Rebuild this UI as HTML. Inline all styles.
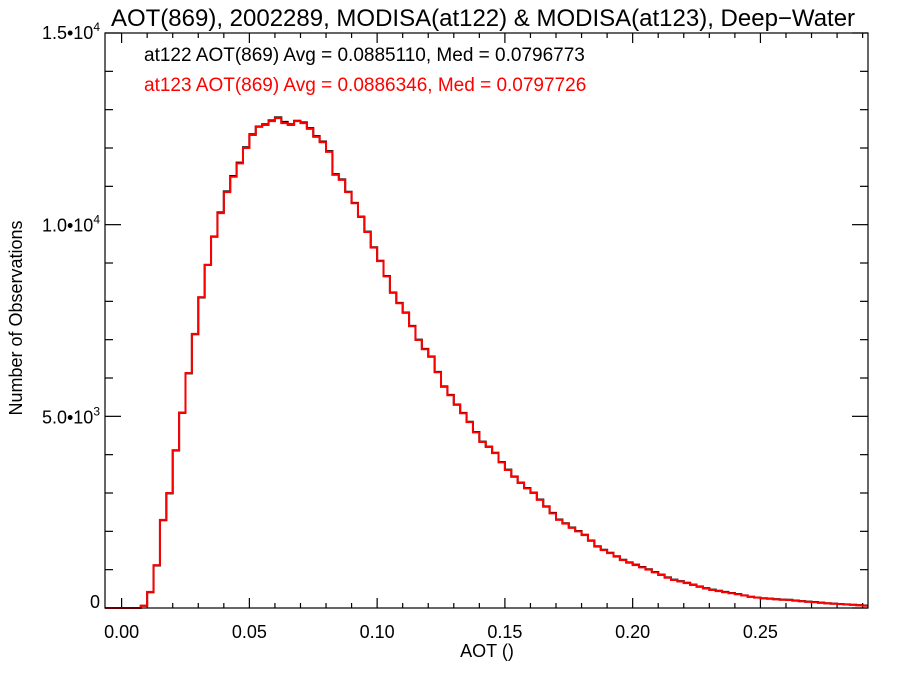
<!DOCTYPE html>
<html><head><meta charset="utf-8"><style>
body{margin:0;background:#fff;}
svg text{font-family:"Liberation Sans",sans-serif;}
</style></head><body>
<svg id="c" width="900" height="675" xmlns="http://www.w3.org/2000/svg">
<text x="483" y="26" font-size="24" text-anchor="middle">AOT(869), 2002289, MODISA(at122) &amp; MODISA(at123), Deep−Water</text>
<text x="144" y="61" font-size="19" fill="#000">at122 AOT(869) Avg = 0.0885110, Med = 0.0796773</text>
<text x="144" y="91" font-size="19" fill="#ff0000">at123 AOT(869) Avg = 0.0886346, Med = 0.0797726</text>
<text x="487" y="657" font-size="18" text-anchor="middle">AOT ()</text>
<text transform="translate(22,318) rotate(-90)" font-size="18" text-anchor="middle">Number of Observations</text>
<g id="ticks"></g>
<g id="series"></g>
<rect x="105" y="33" width="763" height="575" fill="none" stroke="#000" stroke-width="1.2"/>
</svg>
<script>
const binWidth = 0.0025;
const countsAt123 = [0,0,0,60,420,1120,2300,3000,4120,5100,6130,7150,8110,8950,9680,10300,10850,11250,11600,12000,12340,12550,12600,12700,12780,12650,12600,12700,12650,12500,12290,12150,11900,11300,11170,10850,10560,10200,9810,9400,9050,8650,8220,7950,7700,7350,6990,6750,6550,6150,5770,5550,5300,5080,4850,4580,4330,4200,4040,3800,3600,3420,3260,3120,3000,2820,2640,2470,2300,2200,2090,2000,1900,1750,1600,1510,1430,1340,1250,1180,1120,1060,1000,930,860,790,730,690,650,600,550,510,470,440,410,385,360,325,290,270,250,240,225,215,210,190,175,160,150,135,120,110,100,90,80,70,60];
const countsAt122 = [0,0,0,60,410,1110,2290,2990,4110,5090,6120,7140,8100,8950,9690,10320,10870,11270,11620,12020,12360,12560,12620,12720,12800,12680,12620,12710,12670,12520,12310,12170,11920,11320,11180,10860,10570,10210,9820,9410,9060,8660,8230,7960,7710,7360,7000,6760,6560,6160,5780,5560,5310,5090,4860,4590,4340,4210,4050,3810,3610,3430,3270,3130,3010,2830,2650,2480,2310,2210,2100,2010,1910,1760,1610,1520,1440,1350,1260,1190,1130,1070,1010,940,870,800,740,700,660,610,560,520,480,450,420,390,365,330,295,275,255,245,230,220,215,195,180,165,155,140,125,115,105,95,85,75,65];
const xTickLabels = ["0.00","0.05","0.10","0.15","0.20","0.25"];
const xTickValues = [0,0.05,0.10,0.15,0.20,0.25];
const yTickValues = [0,5000,10000,15000];
const yTickMantissa = ["0","5.0•10","1.0•10","1.5•10"];
const yTickExponent = ["","3","4","4"];
const X0=105,X1=868,Y0=608,Y1=33,XMIN=-0.0065,XMAX=0.2921,YMIN=0,YMAX=15000;
const NS="http://www.w3.org/2000/svg";
function sx(v){return X0+(v-XMIN)/(XMAX-XMIN)*(X1-X0);}
function sy(v){return Y0-(v-YMIN)/(YMAX-YMIN)*(Y0-Y1);}
const tg=document.getElementById('ticks'), sg=document.getElementById('series');
function line(g,x1,y1,x2,y2){const l=document.createElementNS(NS,'line');l.setAttribute('x1',x1);l.setAttribute('y1',y1);l.setAttribute('x2',x2);l.setAttribute('y2',y2);l.setAttribute('stroke','#000');l.setAttribute('stroke-width','1.2');


g.appendChild(l);}
for(let i=0;i<=29;i++){const v=i*0.01;const x=sx(v);const L=(i%5===0)?10:5;line(tg,x,Y0,x,Y0-L);line(tg,x,Y1,x,Y1+L);}
for(let i=0;i<=15;i++){const v=i*1000;const y=sy(v);const L=(i%5===0)?16:8;line(tg,X0,y,X0+L,y);line(tg,X1,y,X1-L,y);}
xTickValues.forEach((v,i)=>{const t=document.createElementNS(NS,'text');t.setAttribute('x',sx(v));t.setAttribute('y',Y0+30);t.setAttribute('font-size','18');t.setAttribute('text-anchor','middle');t.textContent=xTickLabels[i];


tg.appendChild(t);});
yTickValues.forEach((v,i)=>{const t=document.createElementNS(NS,'text');t.setAttribute('x',X0-5);t.setAttribute('y',sy(v)+(i===0?0:(i===3?6:7)));t.setAttribute('font-size','18');t.setAttribute('text-anchor','end');


const m=document.createElementNS(NS,'tspan');m.textContent=yTickMantissa[i];t.appendChild(m);
if(yTickExponent[i]){const e=document.createElementNS(NS,'tspan');e.setAttribute('font-size','12');e.setAttribute('dy','-8');e.textContent=yTickExponent[i];t.appendChild(e);}
tg.appendChild(t);});
function hist(counts,color,name){let d='M'+X0+','+sy(0)+' L'+sx(0)+','+sy(0);
counts.forEach((c,i)=>{const a=sx(i*binWidth),b=Math.min(sx((i+1)*binWidth),X1);d+=' L'+a+','+sy(c)+' L'+b+','+sy(c);});
const p=document.createElementNS(NS,'path');p.setAttribute('d',d);p.setAttribute('fill','none');p.setAttribute('stroke',color);p.setAttribute('stroke-width','2');


sg.appendChild(p);}
hist(countsAt122,'#000','series-at122');
hist(countsAt123,'#ff0000','series-at123');
</script>
</body></html>
